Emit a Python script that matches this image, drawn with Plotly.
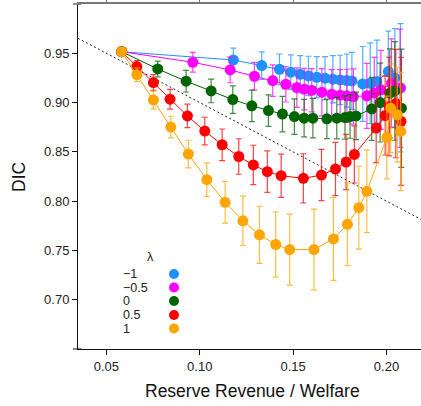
import plotly.graph_objects as go

# ---------------- data ----------------
lambdas = ["\u22121", "\u22120.5", "0", "0.5", "1"]
colors = ["#1E90FF", "#FF00FF", "#006400", "#FF0000", "#FFA500"]
err_colors = ["rgba(30,144,255,0.75)", "rgba(255,0,255,0.75)", "rgba(0,100,0,0.75)",
              "rgba(255,0,0,0.75)", "rgba(255,165,0,0.75)"]

x_m1 = [0.0582, 0.1180, 0.1332, 0.1427, 0.1488, 0.1538, 0.1582, 0.1627, 0.1671, 0.1713,
        0.1752, 0.1788, 0.1815, 0.1873, 0.1913, 0.1949, 0.2010, 0.2045, 0.2075]
y_m1 = [0.9516, 0.9432, 0.9375, 0.9338, 0.9308, 0.9287, 0.9270, 0.9257, 0.9247, 0.9237,
        0.9230, 0.9223, 0.9220, 0.9189, 0.9196, 0.9213, 0.9314, 0.9250, 0.9150]
e_m1 = [0.004, 0.012, 0.014, 0.0155, 0.0175, 0.019, 0.020, 0.021, 0.022, 0.024,
        0.025, 0.027, 0.029, 0.038, 0.041, 0.042, 0.041, 0.050, 0.065]

x_m05 = [0.0582, 0.0963, 0.1163, 0.1293, 0.1391, 0.1461, 0.1520, 0.1560, 0.1600, 0.1654,
         0.1707, 0.1752, 0.1788, 0.1823, 0.1895, 0.1935, 0.1970, 0.2027, 0.2073]
y_m05 = [0.9516, 0.9409, 0.9331, 0.9267, 0.9223, 0.9186, 0.9152, 0.9136, 0.9125, 0.9105,
         0.9085, 0.9075, 0.9068, 0.9061, 0.9068, 0.9098, 0.9129, 0.9196, 0.9146]
e_m05 = [0.004, 0.010, 0.013, 0.014, 0.016, 0.018, 0.020, 0.021, 0.022, 0.024,
         0.025, 0.026, 0.027, 0.028, 0.033, 0.036, 0.040, 0.045, 0.060]

x_0 = [0.0582, 0.0775, 0.0927, 0.1061, 0.1177, 0.1279, 0.1368, 0.1443, 0.1507, 0.1559,
       0.1606, 0.1681, 0.1734, 0.1778, 0.1805, 0.1837, 0.1921, 0.1966, 0.2018, 0.2045, 0.2080]
y_0 = [0.9516, 0.9341, 0.9217, 0.9118, 0.9030, 0.8967, 0.8919, 0.8883, 0.8858, 0.8842,
       0.8842, 0.8835, 0.8842, 0.8848, 0.8858, 0.8865, 0.8936, 0.9000, 0.9095, 0.9118, 0.8943]
e_0 = [0.004, 0.008, 0.011, 0.012, 0.014, 0.016, 0.016, 0.018, 0.018, 0.019,
       0.020, 0.020, 0.021, 0.022, 0.022, 0.024, 0.032, 0.040, 0.045, 0.050, 0.060]

x_05 = [0.0582, 0.0663, 0.0752, 0.0841, 0.0934, 0.1027, 0.1120, 0.1209, 0.1287, 0.1362,
        0.1436, 0.1555, 0.1652, 0.1727, 0.1784, 0.1828, 0.1945, 0.1993, 0.2014, 0.2050, 0.2078]
y_05 = [0.9516, 0.9365, 0.9203, 0.9034, 0.8865, 0.8711, 0.8572, 0.8453, 0.8367, 0.8299,
        0.8258, 0.8231, 0.8265, 0.8326, 0.8397, 0.8474, 0.8741, 0.8868, 0.8960, 0.8990, 0.8810]
e_05 = [0.004, 0.006, 0.008, 0.010, 0.012, 0.014, 0.016, 0.018, 0.020, 0.021,
        0.022, 0.025, 0.026, 0.027, 0.028, 0.029, 0.035, 0.040, 0.050, 0.055, 0.065]

x_1 = [0.0582, 0.0663, 0.0752, 0.0845, 0.0939, 0.1038, 0.1136, 0.1231, 0.1320, 0.1407,
       0.1482, 0.1612, 0.1716, 0.1791, 0.1852, 0.1895, 0.2002, 0.2023, 0.2058, 0.2076]
y_1 = [0.9516, 0.9283, 0.9027, 0.8751, 0.8478, 0.8218, 0.7988, 0.7800, 0.7658, 0.7560,
       0.7509, 0.7509, 0.7617, 0.7765, 0.7934, 0.8100, 0.8646, 0.8943, 0.8876, 0.8707]
e_1 = [0.004, 0.007, 0.009, 0.011, 0.014, 0.017, 0.021, 0.025, 0.029, 0.033,
       0.036, 0.041, 0.042, 0.042, 0.042, 0.042, 0.042, 0.045, 0.048, 0.060]

series = [(x_m1, y_m1, e_m1), (x_m05, y_m05, e_m05), (x_0, y_0, e_0),
          (x_05, y_05, e_05), (x_1, y_1, e_1)]

x_ticks = [0.05, 0.10, 0.15, 0.20]
y_ticks = [0.70, 0.75, 0.80, 0.85, 0.90, 0.95]
x_range = [0.0348, 0.2185]
y_range = [0.65, 1.0]
ref_x = [0.0348, 0.2185]          # reference line DIC = 1 - x
ref_y = [1 - v for v in ref_x]

# ---------------- layout geometry ----------------
W, H = 421, 406
L, R, T, B = 78, 0, 4, 57
PW, PH = W - L - R, H - T - B

def px(xp):
    return (xp - L) / PW

def py(yp):
    return (H - B - yp) / PH

FONT = "Liberation Sans, Arial, Helvetica, sans-serif"

fig = go.Figure()

fig.add_trace(go.Scatter(
    x=ref_x, y=ref_y, mode="lines",
    line=dict(color="#222222", width=1, dash="2px,2.5px"),
    hoverinfo="skip", showlegend=False))

for (xs, ys, es), c, ec, name in zip(series, colors, err_colors, lambdas):
    fig.add_trace(go.Scatter(
        x=xs, y=ys, mode="lines+markers", name=name,
        line=dict(color=c, width=1),
        marker=dict(color=c, size=11, line=dict(width=0)),
        error_y=dict(type="data", array=es, visible=True, color=ec,
                     thickness=1.2, width=3),
        showlegend=False))

fig.add_trace(go.Scatter(x=[0.1], y=[0.9], xaxis="x2", mode="markers",
                         marker=dict(opacity=0), hoverinfo="skip", showlegend=False))

# ---------------- manual legend ----------------
shapes = []
annotations = []
LEG_FONT = dict(family=FONT, size=12.5, color="#222")
annotations.append(dict(text="\u03bb", x=px(150), y=py(257), xref="paper", yref="paper",
                        showarrow=False, font=LEG_FONT,
                        xanchor="center", yanchor="middle"))
leg_y = [274, 287.5, 301, 315, 328.5]
for name, c, yy in zip(lambdas, colors, leg_y):
    annotations.append(dict(text=name, x=px(122), y=py(yy), xref="paper", yref="paper",
                            showarrow=False, font=LEG_FONT,
                            xanchor="left", yanchor="middle", borderpad=0))
    shapes.append(dict(type="circle", xref="paper", yref="paper",
                       xsizemode="pixel", ysizemode="pixel",
                       xanchor=px(174), yanchor=py(yy),
                       x0=-5, x1=5, y0=-5, y1=5,
                       fillcolor=c, line=dict(width=0)))

# axis titles
annotations.append(dict(text="DIC", x=px(19), y=py(177), xref="paper", yref="paper",
                        showarrow=False, textangle=-90,
                        font=dict(family=FONT, size=17.5, color="#111"),
                        xanchor="center", yanchor="middle"))
annotations.append(dict(text="Reserve Revenue / Welfare", x=px(252), y=py(391),
                        xref="paper", yref="paper", showarrow=False,
                        font=dict(family=FONT, size=17.5, color="#111"),
                        xanchor="center", yanchor="middle"))

# short extensions of bottom / top frame lines left of the y axis
shapes.append(dict(type="line", xref="paper", yref="paper", x0=px(73), x1=0.01, y0=0, y1=0,
                   line=dict(color="#111", width=1)))
shapes.append(dict(type="line", xref="paper", yref="paper", x0=px(73), x1=0.01, y0=1, y1=1,
                   line=dict(color="#777", width=1.6)))

fig.update_layout(
    width=W, height=H,
    margin=dict(l=L, r=R, t=T, b=B, pad=0),
    paper_bgcolor="white", plot_bgcolor="white",
    font=dict(family=FONT, size=13, color="#222"),
    showlegend=False,
    xaxis=dict(range=x_range, tickvals=x_ticks, ticktext=[f"{v:.2f}" for v in x_ticks],
               showgrid=False, zeroline=False, showline=True, linecolor="#111", linewidth=1,
               ticks="outside", ticklen=5, tickcolor="#111", tickwidth=1,
               tickfont=dict(family=FONT, size=13, color="#222")),
    xaxis2=dict(range=x_range, overlaying="x", side="top", matches="x",
                tickvals=x_ticks, showticklabels=False, showgrid=False, zeroline=False,
                showline=True, linecolor="#777", linewidth=1.6,
                ticks="outside", ticklen=4, tickcolor="#777", tickwidth=1),
    yaxis=dict(range=y_range, tickvals=y_ticks, ticktext=[f"{v:.2f}" for v in y_ticks],
               showgrid=False, zeroline=False, showline=True, linecolor="#111", linewidth=1,
               ticks="outside", ticklen=5, tickcolor="#111", tickwidth=1,
               tickfont=dict(family=FONT, size=13, color="#222")),
    shapes=shapes,
    annotations=annotations,
)

fig.write_html("out.html", config={"displayModeBar": False},
               post_script="document.body.style.margin='0';document.body.style.padding='0';")
